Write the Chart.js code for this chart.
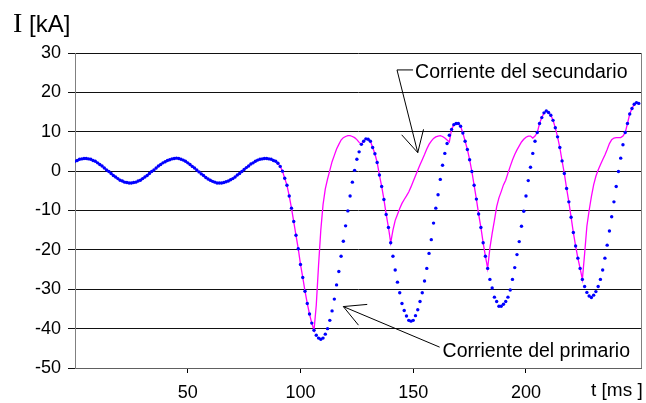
<!DOCTYPE html>
<html>
<head>
<meta charset="utf-8">
<script src="https://cdn.jsdelivr.net/npm/chart.js@4.4.0/dist/chart.umd.min.js"></script>
<style>
  html, body { margin: 0; padding: 0; background: #fff; }
  #wrap { width: 646px; height: 403px; }
</style>
</head>
<body>
<div id="wrap"><canvas id="myChart" width="646" height="403"></canvas></div>
<script>
// time in ms, one sample per ms starting at 0
const stepMs = 1;

// Corriente del primario (blue dots), kA
const primario = [
  2.5, 2.7, 3.0, 3.1, 3.2, 3.2, 3.1, 3.0, 2.7, 2.5,
  2.1, 1.7, 1.3, 0.8, 0.3, -0.1, -0.6, -1.1, -1.5, -1.9,
  -2.3, -2.5, -2.8, -2.9, -3.0, -3.0, -2.9, -2.8, -2.5, -2.3,
  -1.9, -1.5, -1.1, -0.6, -0.1, 0.3, 0.8, 1.3, 1.7, 2.1,
  2.4, 2.7, 2.9, 3.1, 3.2, 3.3, 3.2, 3.0, 2.8, 2.5,
  2.1, 1.7, 1.2, 0.8, 0.3, -0.2, -0.7, -1.1, -1.6, -2.0,
  -2.3, -2.6, -2.8, -3.0, -3.0, -3.0, -2.9, -2.7, -2.5, -2.2,
  -1.9, -1.5, -1.0, -0.6, -0.1, 0.4, 0.9, 1.3, 1.8, 2.1,
  2.5, 2.8, 3.0, 3.1, 3.2, 3.2, 3.1, 3.0, 2.7, 2.5,
  2.0, 1.2, 0.0, -1.8, -3.6, -6.3, -9.4, -12.8, -16.3, -19.7,
  -23.7, -27.0, -30.5, -33.6, -36.3, -38.6, -40.4, -41.7, -42.4, -42.7,
  -42.4, -41.4, -40.0, -37.9, -35.5, -32.5, -28.9, -25.5, -21.6, -17.8,
  -13.9, -10.1, -6.3, -2.8, 0.2, 3.0, 4.9, 6.8, 7.6, 8.2,
  8.1, 7.6, 6.0, 4.4, 2.2, -1.0, -3.9, -7.2, -11.0, -14.3,
  -18.2, -21.6, -25.1, -28.2, -30.9, -33.6, -35.4, -36.8, -37.9, -38.1,
  -37.9, -36.7, -35.2, -33.1, -30.9, -27.9, -24.7, -20.9, -17.4, -13.2,
  -9.4, -6.0, -2.1, 1.5, 4.5, 7.0, 9.1, 10.6, 11.8, 12.1,
  12.1, 11.4, 9.7, 7.6, 5.5, 2.9, -0.1, -3.6, -7.1, -10.9,
  -14.3, -18.2, -21.6, -24.7, -27.5, -29.7, -32.0, -33.1, -34.3, -34.3,
  -33.8, -33.1, -32.0, -30.2, -27.5, -24.5, -21.2, -17.9, -14.0, -10.2,
  -6.3, -2.4, 1.0, 4.5, 7.6, 9.8, 12.1, 13.6, 14.8, 15.3,
  14.9, 14.2, 12.9, 11.0, 8.7, 6.0, 2.6, -0.6, -4.4, -7.8,
  -11.7, -15.6, -19.0, -22.1, -24.7, -27.5, -29.3, -30.8, -31.7, -32.1,
  -31.5, -30.6, -29.3, -27.5, -25.1, -22.1, -18.8, -15.2, -11.6, -7.8,
  -3.9, -0.1, 3.3, 6.7, 9.8, 12.1, 14.5, 15.9, 17.0, 17.4,
  17.2
];

// Corriente del secundario (magenta line), kA
const secundario = [
  2.5, 2.7, 3.0, 3.1, 3.2, 3.2, 3.1, 3.0, 2.7, 2.5,
  2.1, 1.7, 1.3, 0.8, 0.3, -0.1, -0.6, -1.1, -1.5, -1.9,
  -2.3, -2.5, -2.8, -2.9, -3.0, -3.0, -2.9, -2.8, -2.5, -2.3,
  -1.9, -1.5, -1.1, -0.6, -0.1, 0.3, 0.8, 1.3, 1.7, 2.1,
  2.4, 2.7, 2.9, 3.1, 3.2, 3.3, 3.2, 3.0, 2.8, 2.5,
  2.1, 1.7, 1.2, 0.8, 0.3, -0.2, -0.7, -1.1, -1.6, -2.0,
  -2.3, -2.6, -2.8, -3.0, -3.0, -3.0, -2.9, -2.7, -2.5, -2.2,
  -1.9, -1.5, -1.0, -0.6, -0.1, 0.4, 0.9, 1.3, 1.8, 2.1,
  2.5, 2.8, 3.0, 3.1, 3.2, 3.2, 3.1, 3.0, 2.7, 2.5,
  2.0, 1.2, 0.0, -1.8, -3.6, -6.3, -9.4, -12.8, -16.3, -19.7,
  -23.7, -27.0, -30.5, -33.6, -36.3, -38.6, -40.4, -34.0, -24.0, -15.0,
  -8.5, -4.5, -2.0, 0.2, 2.4, 4.0, 5.6, 6.8, 7.9, 8.5,
  8.8, 9.0, 9.0, 8.8, 8.5, 8.0, 7.3, 6.8, 7.6, 8.2,
  8.1, 7.6, 6.0, 4.4, 2.2, -1.0, -3.9, -7.2, -11.0, -14.3,
  -18.2, -15.0, -12.5, -11.0, -9.5, -8.2, -7.2, -6.3, -5.3, -4.0,
  -2.6, -1.2, 0.2, 1.6, 2.9, 4.2, 5.6, 6.8, 7.6, 8.3,
  8.7, 8.9, 9.0, 8.8, 8.4, 7.9, 7.4, 10.6, 11.8, 12.1,
  12.1, 11.4, 9.7, 7.6, 5.5, 2.9, -0.1, -3.6, -7.1, -10.9,
  -14.3, -18.2, -21.6, -24.7, -19.5, -15.8, -12.5, -9.0, -6.8, -5.2,
  -3.5, -2.3, -0.5, 1.2, 2.8, 4.2, 5.4, 6.4, 7.4, 8.1,
  8.6, 8.9, 8.9, 8.4, 8.9, 9.8, 12.1, 13.6, 14.8, 15.3,
  14.9, 14.2, 12.9, 11.0, 8.7, 6.0, 2.6, -0.6, -4.4, -7.8,
  -11.7, -15.6, -19.0, -22.1, -24.7, -27.5, -21.0, -14.0, -10.0, -6.5,
  -3.5, -1.3, 0.3, 1.6, 2.9, 4.1, 5.5, 7.0, 8.0, 8.4,
  8.5, 8.5, 8.5, 8.9, 9.8, 12.1, 14.5, 15.9, 17.0, 17.4,
  17.2
];

// axes
const xMin = 0;
const xMax = 251;
const xTickValues = [50, 100, 150, 200];
const yMin = -50;
const yMax = 30;
const yStep = 10;

// callouts, positions in data units (t ms, kA)
const callouts = [
  { text: 'Corriente del secundario', textAt: [150.8, 23.6], path: [[149.9, 25.7], [142.8, 25.7], [152.0, 4.7]] },
  { text: 'Corriente del primario', textAt: [163.0, -47.2], path: [[161.7, -44.7], [119.0, -34.4]] }
];

const sansFont = '"Liberation Sans", Arial, sans-serif';

function toPoints(values) {
  return values.map((v, i) => ({ x: i * stepMs, y: v }));
}

function drawArrowHead(ctx, from, tip) {
  let ang = Math.atan2(from[1] - tip[1], from[0] - tip[0]);
  let len = 24;
  let spread = 28 * Math.PI / 180;
  ctx.beginPath();
  ctx.moveTo(tip[0] + len * Math.cos(ang - spread), tip[1] + len * Math.sin(ang - spread));
  ctx.lineTo(tip[0], tip[1]);
  ctx.lineTo(tip[0] + len * Math.cos(ang + spread), tip[1] + len * Math.sin(ang + spread));
  ctx.stroke();
}

const extrasPlugin = {
  id: 'extras',
  afterDraw(chart) {
    const ctx = chart.ctx;
    const xs = chart.scales.x;
    const ys = chart.scales.y;
    const area = chart.chartArea;
    ctx.save();

    // right edge of plot area
    ctx.strokeStyle = '#808080';
    ctx.lineWidth = 1;
    ctx.beginPath();
    ctx.moveTo(Math.round(area.right) + 0.5, area.top);
    ctx.lineTo(Math.round(area.right) + 0.5, area.bottom);
    ctx.stroke();

    // callouts
    ctx.strokeStyle = '#000';
    ctx.fillStyle = '#000';
    ctx.lineWidth = 1;
    ctx.font = '19.5px ' + sansFont;
    ctx.textBaseline = 'alphabetic';
    ctx.textAlign = 'left';
    callouts.forEach(c => {
      let pts = c.path.map(p => [xs.getPixelForValue(p[0]), ys.getPixelForValue(p[1])]);
      ctx.beginPath();
      ctx.moveTo(pts[0][0], pts[0][1]);
      for (let i = 1; i < pts.length; i++) ctx.lineTo(pts[i][0], pts[i][1]);
      ctx.stroke();
      drawArrowHead(ctx, pts[pts.length - 2], pts[pts.length - 1]);
      ctx.fillText(c.text, xs.getPixelForValue(c.textAt[0]), ys.getPixelForValue(c.textAt[1]));
    });

    // axis titles
    ctx.font = '28px "Liberation Serif", "Times New Roman", serif';
    ctx.fillText('I', 13, 32);
    ctx.font = '24px ' + sansFont;
    ctx.fillText('[kA]', 29, 32);
    ctx.font = '19px ' + sansFont;
    ctx.fillText('t [ms ]', 591, 396);

    ctx.restore();
  }
};

const ctx = document.getElementById('myChart');

const myChart = new Chart(ctx, {
  type: 'scatter',
  data: {
    datasets: [
      {
        label: 'Corriente del primario',
        data: toPoints(primario),
        showLine: false,
        pointRadius: 1.7,
        pointBorderWidth: 0,
        pointBackgroundColor: '#0000ff',
        borderColor: '#0000ff'
      },
      {
        label: 'Corriente del secundario',
        data: toPoints(secundario),
        showLine: true,
        borderColor: '#ff00ff',
        borderWidth: 1.3,
        pointRadius: 0,
        tension: 0
      }
    ]
  },
  options: {
    responsive: false,
    animation: false,
    devicePixelRatio: 1,
    layout: { padding: { top: 53, right: 5, left: 0, bottom: 0 } },
    plugins: {
      legend: { display: false },
      tooltip: { enabled: false }
    },
    scales: {
      x: {
        type: 'linear',
        min: xMin,
        max: xMax,
        afterBuildTicks: s => { s.ticks = xTickValues.map(v => ({ value: v })); },
        afterFit: s => { s.height = 35; },
        ticks: {
          color: '#000',
          font: { family: sansFont, size: 18 },
          padding: 9,
          maxRotation: 0,
          autoSkip: false
        },
        grid: { drawOnChartArea: false, drawTicks: true, tickLength: 5, color: '#000' },
        border: { color: '#606060' }
      },
      y: {
        min: yMin,
        max: yMax,
        afterFit: s => { s.width = 75; },
        ticks: {
          stepSize: yStep,
          color: '#000',
          font: { family: sansFont, size: 18 },
          padding: 7
        },
        grid: { color: '#111', tickLength: 7, lineWidth: 1 },
        border: { color: '#808080' }
      }
    }
  },
  plugins: [extrasPlugin]
});
</script>
</body>
</html>
